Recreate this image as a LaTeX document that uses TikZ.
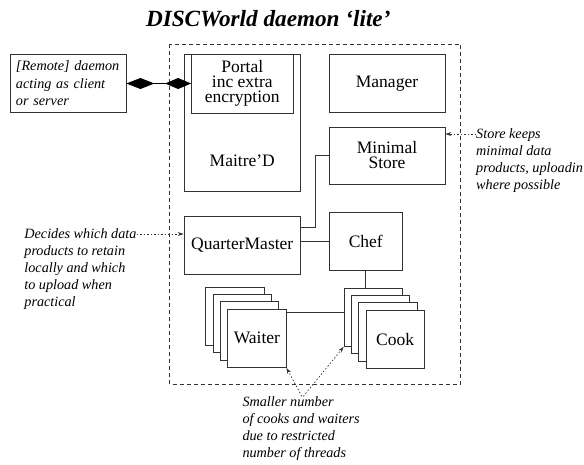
\documentclass[tikz,border=0pt]{standalone}
\usepackage{fontspec}
\setmainfont{Liberation Serif}
\usetikzlibrary{arrows.meta, positioning, calc}
\definecolor{linegray}{RGB}{50,50,50}

\begin{document}
\begin{tikzpicture}[x=1pt, y=-1pt,
    partbox/.style={draw=linegray, line width=0.8pt, fill=white, inner sep=0pt,
                    font=\fontsize{17.5}{15}\selectfont, align=center},
    card/.style={partbox, minimum width=58.3pt, minimum height=58.3pt},
    notetext/.style={font=\fontsize{14.2}{17}\selectfont\itshape, align=left, inner sep=0pt},
    notearrow/.style={linegray, line width=0.7pt, dash pattern=on 1.5pt off 2pt, -{Stealth[length=6pt,width=4pt]}},
    link/.style={draw=linegray, line width=0.8pt}
]
\useasboundingbox (0,0) rectangle (584,464);

% Title
\node[font=\fontsize{23.2}{27}\selectfont\bfseries\itshape, anchor=base] (title) at (268.3,26) {DISCWorld daemon `lite'};

% Daemon boundary
\draw[linegray, line width=0.7pt, dash pattern=on 4pt off 3pt] (169.5,44) rectangle (460.5,384);

% Maitre'D and its portal
\node[partbox, minimum width=116.5pt, minimum height=137pt] (maitred) at (242.25,122.8) {};
\node[partbox, minimum width=101.5pt, minimum height=59pt] (portal) at (242.25,83.8) {Portal\\inc extra\\encryption};
\node[font=\fontsize{17.5}{15}\selectfont] (maitredlabel) at (242.25,161) {Maitre'D};

% Other parts
\node[partbox, minimum width=116pt, minimum height=58pt] (manager) at (387,83.3) {Manager};
\node[partbox, minimum width=116pt, minimum height=57pt] (store) at (387,155.5) {Minimal\\Store};
\node[partbox, minimum width=116.5pt, minimum height=57.5pt] (qm) at (242.25,245.25) {QuarterMaster};
\node[partbox, minimum width=73pt, minimum height=57.5pt] (chef) at (365.8,241.25) {Chef};

% Remote daemon
\node[partbox, font=\fontsize{14.2}{17.5}\selectfont\itshape, align=left, text width=104pt,
      inner xsep=6pt, minimum height=58pt] (remote) at (68,83.5) {[Remote] daemon\\acting as client\\or server};

% Waiter and cook stacks
\foreach \i in {0,1,2} {
  \node[card] (waiter\i) at ({234.9+7.33*\i},{316.3+7.33*\i}) {};
  \node[card] (cook\i) at ({373.2+7.33*\i},{317.3+7.33*\i}) {};
}
\node[card] (waiter3) at (256.9,338.3) {Waiter};
\node[card] (cook3) at (395.2,339.3) {Cook};

% Connectors
\draw[{Diamond[length=28pt,width=11pt]}-{Diamond[length=26pt,width=11pt]}, black, line width=0.9pt]
  (remote.east) -- (remote.east -| portal.west);
\draw[link] ([yshift=18pt]qm.east) -- ++(14pt,0) |- (store.west);
\draw[link] (chef.west) -- (chef.west -| qm.east);
\draw[link] (chef.south) -- (chef.south |- cook0.north);
\draw[link] ([yshift=-4pt]waiter3.north east) -- ([yshift=-4pt]waiter3.north east -| cook0.west);

% Notes
\node[notetext, anchor=north west] (storenote) at (476,128.6) {Store keeps\\minimal data\\products, uploadin\\where possible};
\draw[notearrow] ([yshift=-5.4pt]storenote.north west) -- ([yshift=-5.4pt]storenote.north west -| store.east);

\node[notetext, anchor=north west] (qmnote) at (24.2,228.8) {Decides which data\\products to retain\\locally and which\\to upload when\\practical};
\draw[notearrow] ([yshift=-5.2pt]qmnote.north east) -- ([yshift=-5.2pt]qmnote.north east -| qm.west);

\node[notetext, anchor=north west] (threadnote) at (242.3,396.3) {Smaller number\\of cooks and waiters\\due to restricted\\number of threads};
\draw[notearrow] ([xshift=59.5pt]threadnote.north west) -- (waiter3.south east);
\draw[notearrow] ([xshift=61pt]threadnote.north west) -- (cook0.south west);

\end{tikzpicture}
\end{document}
